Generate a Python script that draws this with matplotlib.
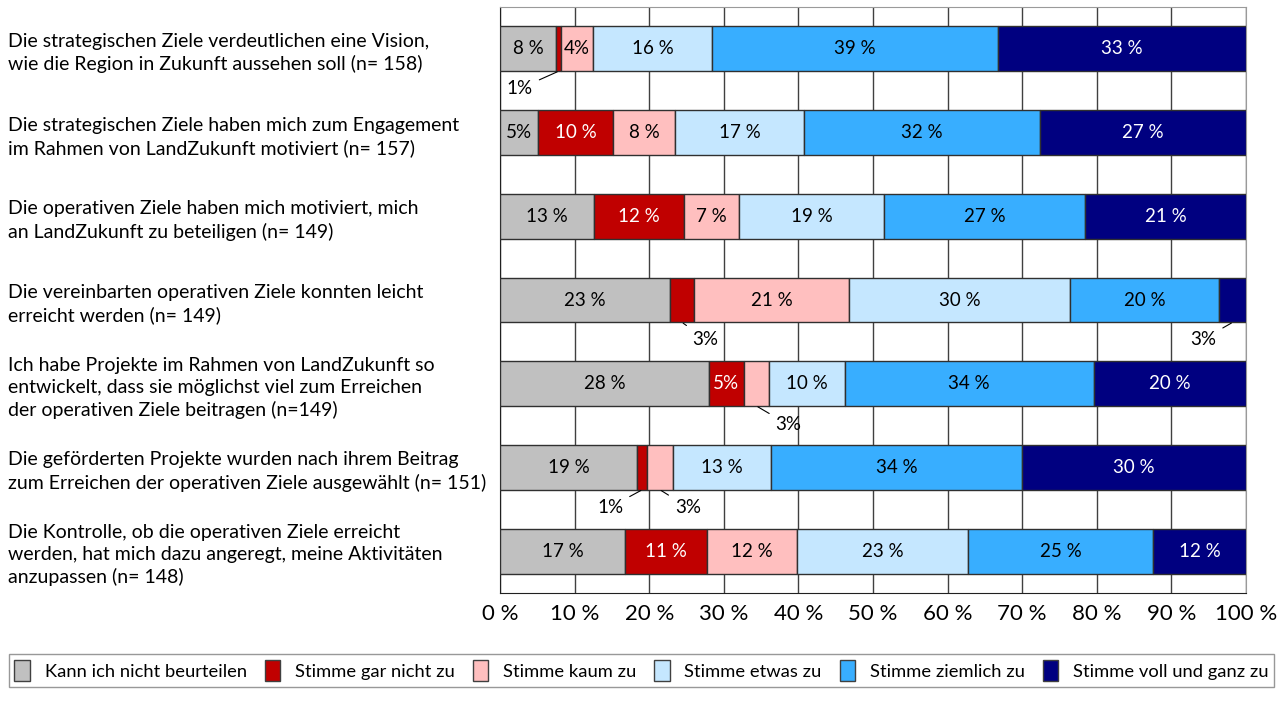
import numpy as np
import matplotlib.pyplot as plt
from matplotlib.patches import Patch

plt.rcParams['font.family'] = ['Lato', 'DejaVu Sans']

statements = [
    'Die strategischen Ziele verdeutlichen eine Vision,\nwie die Region in Zukunft aussehen soll (n= 158)',
    'Die strategischen Ziele haben mich zum Engagement\nim Rahmen von LandZukunft motiviert (n= 157)',
    'Die operativen Ziele haben mich motiviert, mich\nan LandZukunft zu beteiligen (n= 149)',
    'Die vereinbarten operativen Ziele konnten leicht\nerreicht werden (n= 149)',
    'Ich habe Projekte im Rahmen von LandZukunft so\nentwickelt, dass sie möglichst viel zum Erreichen\nder operativen Ziele beitragen (n=149)',
    'Die geförderten Projekte wurden nach ihrem Beitrag\nzum Erreichen der operativen Ziele ausgewählt (n= 151)',
    'Die Kontrolle, ob die operativen Ziele erreicht\nwerden, hat mich dazu angeregt, meine Aktivitäten\nanzupassen (n= 148)',
]
categories = ['Kann ich nicht beurteilen', 'Stimme gar nicht zu', 'Stimme kaum zu',
              'Stimme etwas zu', 'Stimme ziemlich zu', 'Stimme voll und ganz zu']

# shares in % per statement
kann_nicht = [7.5, 5.1, 12.6, 22.8, 28.0, 18.4, 16.8]
gar_nicht = [0.7, 10.1, 12.1, 3.2, 4.7, 1.3, 10.9]
kaum = [4.3, 8.3, 7.4, 20.8, 3.4, 3.5, 12.1]
etwas = [15.9, 17.2, 19.4, 29.6, 10.1, 13.1, 22.9]
ziemlich = [38.4, 31.7, 26.9, 20.0, 33.4, 33.7, 24.9]
voll = [33.2, 27.6, 21.6, 3.6, 20.4, 30.0, 12.4]

# printed labels, one row per statement
bar_labels = [
    ['8 %', '1%', '4%', '16 %', '39 %', '33 %'],
    ['5%', '10 %', '8 %', '17 %', '32 %', '27 %'],
    ['13 %', '12 %', '7 %', '19 %', '27 %', '21 %'],
    ['23 %', '3%', '21 %', '30 %', '20 %', '3%'],
    ['28 %', '5%', '3%', '10 %', '34 %', '20 %'],
    ['19 %', '1%', '3%', '13 %', '34 %', '30 %'],
    ['17 %', '11 %', '12 %', '23 %', '25 %', '12 %'],
]

colors = ['#C0C0C0', '#C00000', '#FFBFBF', '#C5E7FF', '#38AEFF', '#000080']
text_colors = ['black', 'white', 'black', 'black', 'black', 'white']

# labels placed below the bar with a leader line: (row, segment, dx pt, dy pt)
outside = [(0, 1, -28, -12.5), (3, 1, 17, -12), (3, 5, -21, -12),
           (4, 2, 23, -13.5), (5, 1, -23, -12.5), (5, 2, 20, -12.5)]
outside_keys = {(r, s) for r, s, _, _ in outside}

data = np.array([kann_nicht, gar_nicht, kaum, etwas, ziemlich, voll]).T
y = np.arange(len(statements))

fig = plt.figure(figsize=(12.83, 7.04), dpi=100)
ax = fig.add_axes([500 / 1283, 111 / 704, 746 / 1283, 586 / 704])

left = np.zeros(len(statements))
bar_h = 0.535
for j in range(data.shape[1]):
    ax.barh(y, data[:, j], left=left, height=bar_h, color=colors[j],
            edgecolor='#303030', linewidth=1, zorder=3)
    for i in range(len(statements)):
        if (i, j) in outside_keys:
            continue
        ax.text(left[i] + data[i, j] / 2, y[i], bar_labels[i][j], ha='center', va='center',
                fontsize=13.5, color=text_colors[j], zorder=4)
    left += data[:, j]

lefts = np.cumsum(data, axis=1) - data
for r, s, dx, dy in outside:
    ax.annotate(bar_labels[r][s], xy=(lefts[r, s] + data[r, s] / 2, y[r] + bar_h / 2),
                xytext=(dx, dy), textcoords='offset points', ha='center', va='center',
                fontsize=13.5, zorder=4,
                arrowprops=dict(arrowstyle='-', color='black', lw=0.8, shrinkA=3, shrinkB=1))

ax.set_xlim(0, 100)
ax.set_ylim(6.5, -0.5)
ax.set_xticks(np.arange(0, 101, 10))
ax.set_xticklabels([f'{v} %' for v in range(0, 101, 10)])
ax.set_yticks(y)
ax.set_yticklabels(statements, ha='left', linespacing=1.35)
ax.tick_params(axis='x', length=0, pad=8, labelsize=16)
ax.tick_params(axis='y', length=0, pad=354, labelsize=14)
ax.xaxis.grid(True, color='#404040', linewidth=1, zorder=0)
ax.set_axisbelow(True)
for side in ['top', 'right']:
    ax.spines[side].set_color('#9a9a9a')
for side in ['left', 'bottom']:
    ax.spines[side].set_color('#202020')

handles = [Patch(facecolor=c, edgecolor='#404040', linewidth=1) for c in colors]
leg = fig.legend(handles, categories, loc='center', bbox_to_anchor=(0.5, 33.5 / 704), ncol=6,
                 frameon=True, fancybox=False, edgecolor='#7f7f7f', fontsize=13.2,
                 handlelength=0.85, handleheight=1.4, handletextpad=0.8, columnspacing=0.98,
                 borderpad=0.3, borderaxespad=0)
leg.get_frame().set_linewidth(1)

fig.savefig('out.png', dpi=100)
